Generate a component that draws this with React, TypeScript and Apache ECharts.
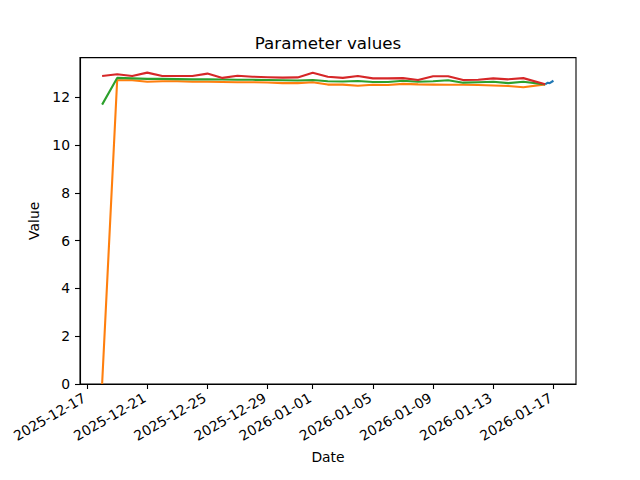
import React, { useEffect, useRef } from "react";
import * as echarts from "echarts";

// ---- data ----
const dates: string[] = [
  "2025-12-18T00:00", "2025-12-19T00:00", "2025-12-20T00:00", "2025-12-21T00:00",
  "2025-12-22T00:00", "2025-12-23T00:00", "2025-12-24T00:00", "2025-12-25T00:00",
  "2025-12-26T00:00", "2025-12-27T00:00", "2025-12-28T00:00", "2025-12-29T00:00",
  "2025-12-30T00:00", "2025-12-31T00:00", "2026-01-01T00:00", "2026-01-02T00:00",
  "2026-01-03T00:00", "2026-01-04T00:00", "2026-01-05T00:00", "2026-01-06T00:00",
  "2026-01-07T00:00", "2026-01-08T00:00", "2026-01-09T00:00", "2026-01-10T00:00",
  "2026-01-11T00:00", "2026-01-12T00:00", "2026-01-13T00:00", "2026-01-14T00:00",
  "2026-01-15T00:00", "2026-01-16T10:48",
];

const orangeValues: number[] = [
  0, 12.72, 12.72, 12.66, 12.68, 12.68, 12.66, 12.66, 12.65, 12.64,
  12.64, 12.63, 12.6, 12.6, 12.64, 12.54, 12.54, 12.49, 12.53, 12.52,
  12.57, 12.55, 12.54, 12.53, 12.53, 12.52, 12.5, 12.48, 12.43, 12.55,
];

const greenValues: number[] = [
  11.7, 12.82, 12.8, 12.78, 12.78, 12.77, 12.76, 12.76, 12.75, 12.74,
  12.74, 12.73, 12.72, 12.71, 12.73, 12.68, 12.67, 12.69, 12.65, 12.65,
  12.7, 12.66, 12.68, 12.72, 12.62, 12.64, 12.66, 12.6, 12.66, 12.55,
];

const redValues: number[] = [
  12.9, 12.97, 12.9, 13.04, 12.9, 12.9, 12.9, 13.0, 12.82, 12.91,
  12.87, 12.85, 12.83, 12.84, 13.04, 12.87, 12.82, 12.9, 12.8, 12.8,
  12.81, 12.73, 12.89, 12.89, 12.73, 12.74, 12.8, 12.76, 12.81, 12.55,
];

const blueDates: string[] = ["2026-01-16T10:48", "2026-01-16T15:00", "2026-01-16T18:00", "2026-01-17T00:00"];
const blueValues: number[] = [12.55, 12.62, 12.6, 12.7];

const xTickLabels: string[] = [
  "2025-12-17", "2025-12-21", "2025-12-25", "2025-12-29", "2026-01-01",
  "2026-01-05", "2026-01-09", "2026-01-13", "2026-01-17",
];
const yTickValues: number[] = [0, 2, 4, 6, 8, 10, 12];

const xMinDate = "2025-12-16T12:43";
const xMaxDate = "2026-01-18T12:00";
const yMax = 13.67;

function toTs(s: string): number {
  const [d, t] = s.split("T");
  const [y, m, day] = d.split("-").map(Number);
  const [hh, mm] = (t || "00:00").split(":").map(Number);
  return new Date(y, m - 1, day, hh, mm).getTime();
}

function fmtDate(v: number): string {
  const d = new Date(v);
  const p = (n: number) => (n < 10 ? "0" + n : "" + n);
  return d.getFullYear() + "-" + p(d.getMonth() + 1) + "-" + p(d.getDate());
}

const FONT = "DejaVu Sans";

export default function App() {
  const ref = useRef<HTMLDivElement>(null);
  useEffect(() => {
    document.body.style.margin = "0";
    if (!ref.current) return;
    const chart = echarts.init(ref.current, undefined, { renderer: "svg" });
    const mk = (ds: string[], vs: number[]) => ds.map((d, i) => [toTs(d), vs[i]]);
    const lineSeries = (name: string, color: string, data: number[][]) => ({
      name,
      type: "line",
      data,
      showSymbol: false,
      symbol: "none",
      lineStyle: { color, width: 2.1 },
      itemStyle: { color },
      z: 2,
    });
    chart.setOption({
      animation: false,
      backgroundColor: "#fff",
      textStyle: { fontFamily: FONT },
      title: {
        text: "Parameter values",
        left: 323,
        top: 29,
        textAlign: "center",
        textStyle: { fontFamily: FONT, fontSize: 16.7, fontWeight: "normal", color: "#000" },
      },
      grid: {
        left: 80,
        right: 64,
        top: 57.6,
        bottom: 96,
        show: true,
        borderColor: "#000",
        borderWidth: 1.1,
        backgroundColor: "transparent",
      },
      xAxis: {
        type: "value",
        min: toTs(xMinDate),
        max: toTs(xMaxDate),
        name: "Date",
        nameLocation: "middle",
        nameGap: 66,
        nameTextStyle: { fontFamily: FONT, fontSize: 13.9, color: "#000" },
        axisLine: { show: true, onZero: false, lineStyle: { color: "#000", width: 1.1 } },
        axisTick: {
          show: true,
          length: 5,
          lineStyle: { color: "#000", width: 1.1 },
          customValues: xTickLabels.map((s) => toTs(s)),
        },
        axisLabel: {
          rotate: 30,
          margin: 11,
          padding: [0, 3, 0, 0],
          fontFamily: FONT,
          fontSize: 13.9,
          color: "#000",
          customValues: xTickLabels.map((s) => toTs(s)),
          formatter: (v: number) => fmtDate(v),
        },
        splitLine: { show: false },
      },
      yAxis: {
        type: "value",
        min: 0,
        max: yMax,
        name: "Value",
        nameLocation: "middle",
        nameGap: 30,
        nameRotate: 90,
        nameTextStyle: { fontFamily: FONT, fontSize: 13.9, color: "#000" },
        axisLine: { show: true, onZero: false, lineStyle: { color: "#000", width: 1.1 } },
        axisTick: {
          show: true,
          length: 5,
          lineStyle: { color: "#000", width: 1.1 },
          customValues: yTickValues,
        },
        axisLabel: {
          margin: 10,
          fontFamily: FONT,
          fontSize: 13.9,
          color: "#000",
          customValues: yTickValues,
        },
        splitLine: { show: false },
      },
      series: [
        lineSeries("blue", "#1f77b4", mk(blueDates, blueValues)),
        lineSeries("orange", "#ff7f0e", mk(dates, orangeValues)),
        lineSeries("green", "#2ca02c", mk(dates, greenValues)),
        lineSeries("red", "#d62728", mk(dates, redValues)),
      ],
    });
    return () => chart.dispose();
  }, []);
  return <div ref={ref} style={{ width: 640, height: 480 }} />;
}
